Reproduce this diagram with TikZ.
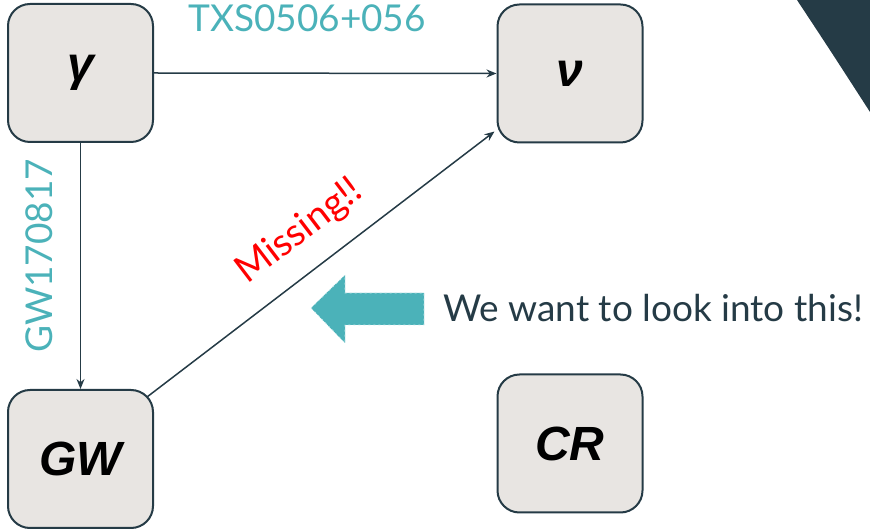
\documentclass[tikz,border=0pt]{standalone}
\usepackage{fontspec}
\setmainfont{Lato}
\newfontfamily\boxfont{Liberation Sans}
\usetikzlibrary{arrows.meta}
\definecolor{slate}{HTML}{253B46}
\definecolor{boxfill}{HTML}{E8E5E2}
\definecolor{tealc}{HTML}{4BB2B9}
\begin{document}
\begin{tikzpicture}[x=1pt,y=1pt,
  qbox/.style={draw=slate,line width=2pt,fill=boxfill,rounded corners=22pt,
    minimum width=145pt,minimum height=138pt,inner sep=0pt,
    font=\boxfont\bfseries\itshape\fontsize{48}{48}\selectfont},
  conn/.style={draw=slate,line width=1.5pt,-{Stealth[length=10pt,width=8pt]}},
  lbl/.style={text=tealc,inner sep=0pt,font=\fontsize{37}{37}\selectfont}
]
\useasboundingbox (0,0) rectangle (870,530);
\fill[slate] (797,530) .. controls (830,480) .. (870,418) -- (870,530) -- cycle;
\node[qbox] (g) at (80.5,457) {γ};
\node[qbox] (nu) at (570,456.5) {ν};
\node[qbox] (gw) at (80.5,71) {GW};
\node[qbox] (cr) at (570,86.5) {CR};
\draw[conn] (g.east) -- (nu.west);
\draw[conn] (g.south) -- (gw.north);
\draw[conn] ([xshift=-7pt,yshift=-8pt]gw.north east) -- ([xshift=-2pt,yshift=12pt]nu.south west);
\node[lbl,anchor=base west] (txs) at (188,498) {TXS0506+056};
\node[lbl,anchor=base west,rotate=90] (gwl) at (52,177) {GW170817};
\node[text=red,inner sep=0pt,rotate=37.3,font=\fontsize{38}{38}\selectfont] (miss) at (300,298) {Missing!!};
\fill[tealc] (311,222) -- (345,255) -- (345,237) -- (424,237) -- (424,205) -- (345,205) -- (345,187) -- cycle;
\draw[white!70!tealc,dashed,line width=0.6pt,dash pattern=on 2pt off 3pt] (311,222) -- (345,255) -- (345,237) -- (424,237) -- (424,205) -- (345,205) -- (345,187) -- cycle;
\node[text=slate,inner sep=0pt,anchor=base west,font=\fontsize{37}{37}\selectfont] (want) at (443,208) {We want to look into this!};
\end{tikzpicture}
\end{document}
